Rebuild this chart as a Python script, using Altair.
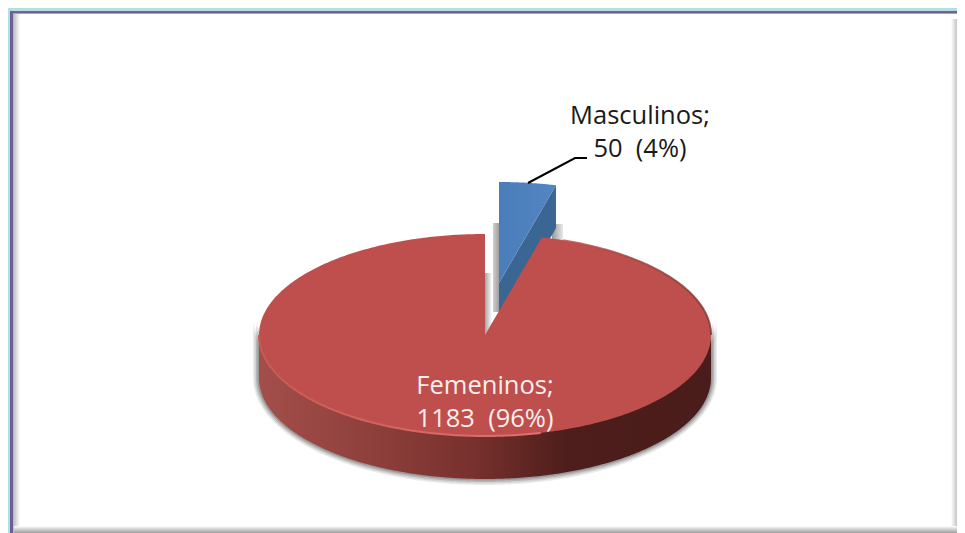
import altair as alt
import numpy as np
import pandas as pd

# ---- values
categories = ["Masculinos", "Femeninos"]
counts = [50, 1183]
percents = [4, 96]
label_text_x = [640, 485]
label_line1_y = [124, 394]
label_line2_y = [157, 427]
label_colors = ["#1a1a1a", "#fbeeee"]

# ---- pie geometry in reference pixels
CX, CY, RX, RY, DEPTH = 485.0, 335.0, 226.0, 101.0, 43.0
EXPLODE_X, EXPLODE_Y = 14.0, -52.0
END_ANGLE = 2 * np.pi * counts[0] / sum(counts)

# the page's content box is 949 px wide: anything wider is scaled down
W, H = 949, 525
RIGHT, BOTTOM = 8 + W, 8 + H
xs = alt.Scale(domain=[8, RIGHT], range=[0, W], nice=False, zero=False)
ys = alt.Scale(domain=[8, BOTTOM], range=[0, H], nice=False, zero=False)
X = lambda f="x": alt.X(f"{f}:Q", scale=xs, axis=None)
Y = lambda f="y": alt.Y(f"{f}:Q", scale=ys, axis=None, stack=None)


def grad(c1, c2, horizontal=True):
    return alt.Gradient(
        gradient="linear",
        stops=[alt.GradientStop(color=c1, offset=0), alt.GradientStop(color=c2, offset=1)],
        x1=0, x2=1 if horizontal else 0, y1=0, y2=0 if horizontal else 1,
    )


def rect(x0, x1, y0, y1, fill):
    d = pd.DataFrame({"x": [x0], "x2": [x1], "y": [y0], "y2": [y1]})
    return alt.Chart(d).mark_rect(fill=fill, stroke=None).encode(
        x=X(), x2="x2:Q", y=Y(), y2="y2:Q"
    )


def band(d, **mark):
    return alt.Chart(d).mark_area(interpolate="linear", orient="vertical", **mark).encode(
        x=X(), y=Y(), y2="y2:Q"
    )


# ---- frame
frame = [
    rect(8, RIGHT, 8, BOTTOM, "#ffffff"),
    rect(8, RIGHT, 8, 11, "#b4dfe2"),
    rect(8, 10, 8, BOTTOM, "#b4dfe2"),
    rect(10, RIGHT, 11, 13, "#6f6298"),
    rect(10, RIGHT, 13, 14, "#a79cc6"),
    rect(10, 13, 11, BOTTOM, "#6a5f96"),
    rect(13, 20, 14, BOTTOM, grad("#b9b9b9", "#ffffff")),
    rect(RIGHT - 6, RIGHT, 19, BOTTOM, grad("#ffffff", "#c4c4c4")),
    rect(14, RIGHT, 526, BOTTOM, grad("#ffffff", "#9d9d9d", horizontal=False)),
]

# ---- pie body
t = np.linspace(-np.pi / 2, np.pi / 2, 241)          # left to right along the lower half
ex = CX + RX * np.sin(t)
low = CY + RY * np.cos(t)
up = CY - RY * np.cos(t)

# soft shadow beneath the wall
shadow = []
for grow, op in [(6, 0.12), (4.5, 0.16), (3, 0.24), (1.5, 0.3)]:
    xx = CX + (RX + grow) * np.sin(t)
    top = CY + (RY + grow) * np.cos(t) - 15
    bot = CY + DEPTH + (RY + grow) * np.cos(t) * 1.0
    shadow.append(band(pd.DataFrame({"x": xx, "y": top, "y2": bot}), fill="#5a5a5a", opacity=op))

wall_stops = [
    alt.GradientStop(color="#a34e4a", offset=0),
    alt.GradientStop(color="#93433f", offset=0.2),
    alt.GradientStop(color="#77302d", offset=0.48),
    alt.GradientStop(color="#4d1e1b", offset=0.68),
    alt.GradientStop(color="#4a1c1a", offset=1),
]
wall = band(
    pd.DataFrame({"x": ex, "y": low - 2, "y2": low + DEPTH}),
    fill=alt.Gradient(gradient="linear", stops=wall_stops, x1=0, x2=1, y1=0, y2=0),
)

# top face: upper boundary follows the rim, except across the removed slice
x_end = CX + RX * np.sin(END_ANGLE)
y_end = CY - RY * np.cos(END_ANGLE)
top_up = np.where(
    (ex >= CX) & (ex <= x_end), CY + (ex - CX) / (x_end - CX) * (y_end - CY), up
)
mid = len(t) // 2
top_left = band(pd.DataFrame({"x": ex[: mid + 1], "y": up[: mid + 1], "y2": low[: mid + 1]}), fill="#be4f4c")
top_right = band(pd.DataFrame({"x": ex[mid:], "y": top_up[mid:], "y2": low[mid:]}), fill="#be4f4c")

# rim highlights
rim_low = alt.Chart(pd.DataFrame({"x": ex[:140], "y": low[:140], "i": range(140)})).mark_line(
    strokeWidth=2, stroke=grad("#c85a56", "#e2716c")
).encode(x=X(), y=Y(), order="i:Q")
mask = t > 0.35
rim_up = alt.Chart(pd.DataFrame({"x": ex[mask], "y": up[mask], "i": range(mask.sum())})).mark_line(
    strokeWidth=2, stroke=grad("#be4f4c", "#7b3533"), opacity=0.8
).encode(x=X(), y=Y(), order="i:Q")

# ---- exploded slice
wt = np.linspace(0, END_ANGLE, 40)
wx = CX + EXPLODE_X + RX * np.sin(wt)
wy = CY + EXPLODE_Y - RY * np.cos(wt)
tip_x, tip_y = CX + EXPLODE_X, CY + EXPLODE_Y
edge = tip_y + (wx - tip_x) / (wx[-1] - tip_x) * (wy[-1] - tip_y)
wedge_side = band(pd.DataFrame({"x": wx, "y": edge, "y2": edge + DEPTH}), fill="#3b6693")
wedge_top = band(
    pd.DataFrame({"x": wx, "y": wy, "y2": edge}),
    fill=grad("#4a7ebb", "#5285c2"),
)

# grey inner shadows next to the slice
strips = [
    rect(CX, CX + 7, 273, CY, grad("#a5a5a5", "#ffffff")),
    rect(tip_x - 6, tip_x, 223, 312, grad("#d0d0d0", "#9f9f9f")),
    rect(wx[-1] - 4, wx[-1] + 7, 224, 240, grad("#999999", "#e8e8e8")),
]

# ---- leader line
leader_x = [528, 575, 587]
leader_y = [183, 158, 158]
leader = alt.Chart(pd.DataFrame({"x": leader_x, "y": leader_y, "i": [0, 1, 2]})).mark_line(
    color="#000000", strokeWidth=2
).encode(x=X(), y=Y(), order="i:Q")

# ---- labels
rows = []
for name, n, p, lx, y1, y2, c in zip(
    categories, counts, percents, label_text_x, label_line1_y, label_line2_y, label_colors
):
    rows.append({"x": lx, "y": y1, "label": f"{name};", "c": c})
    rows.append({"x": lx, "y": y2, "label": f"{n}\u00a0 ({p}%)", "c": c})
labels = alt.Chart(pd.DataFrame(rows)).mark_text(
    font="Open Sans", fontSize=25.5, align="center", baseline="alphabetic"
).encode(x=X(), y=Y(), text="label:N", color=alt.Color("c:N", scale=None))

chart = alt.layer(
    *frame, *shadow, *strips, wedge_side, wedge_top, wall, top_left, top_right, rim_low, rim_up, leader, labels
).properties(
    width=W, height=H, padding=0, autosize=alt.AutoSizeParams(type="none"), background="white"
).configure_view(stroke=None)

chart.save("out.html", embed_options={"renderer": "svg", "actions": False})
